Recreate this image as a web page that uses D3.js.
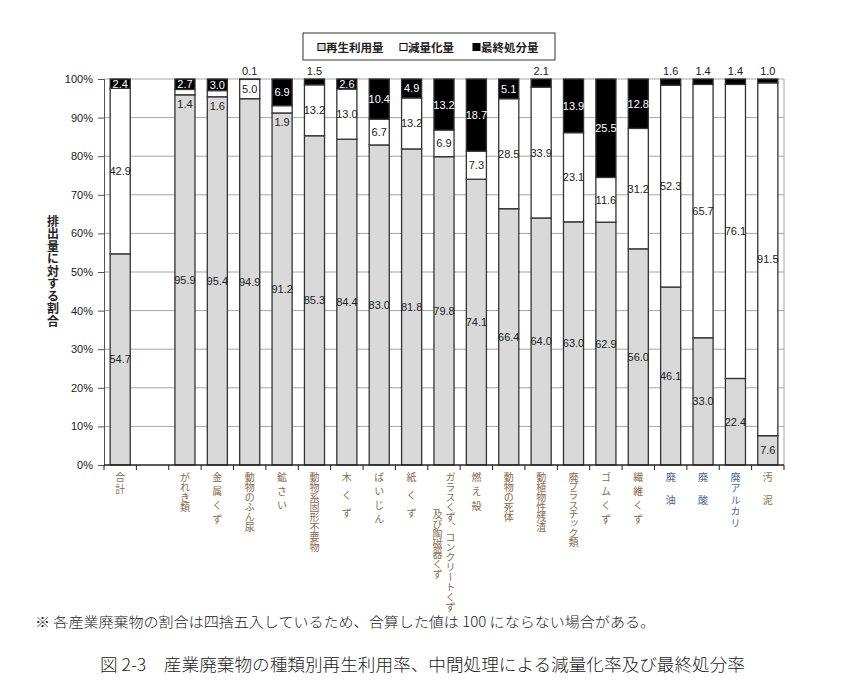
<!DOCTYPE html>
<html>
<head>
<meta charset="utf-8">
<script src="https://cdn.jsdelivr.net/npm/d3@7"></script>
<style>
body { margin: 0; background: #fff; }
text { font-family: "Liberation Sans", Arial, sans-serif; }
.jp { font-family: "Noto Sans CJK JP", sans-serif; }
</style>
</head>
<body>
<svg width="855" height="700"></svg>
<script>
// categories (blank slot after 合計), "\n" = second column of the label
var categories = ["合計", "", "がれき類", "金属くず", "動物のふん尿", "鉱さい", "動物系固形不要物",
  "木くず", "ばいじん", "紙くず", "ガラスくず、コンクリートくず\n及び陶磁器くず", "燃え殻",
  "動物の死体", "動植物性残渣", "廃プラスチック類", "ゴムくず", "繊維くず",
  "廃油", "廃酸", "廃アルカリ", "汚泥"];
var recycled = [54.7, null, 95.9, 95.4, 94.9, 91.2, 85.3, 84.4, 83.0, 81.8, 79.8, 74.1, 66.4, 64.0, 63.0, 62.9, 56.0, 46.1, 33.0, 22.4, 7.6];
var reduced  = [42.9, null, 1.4, 1.6, 5.0, 1.9, 13.2, 13.0, 6.7, 13.2, 6.9, 7.3, 28.5, 33.9, 23.1, 11.6, 31.2, 52.3, 65.7, 76.1, 91.5];
var landfill = [2.4, null, 2.7, 3.0, 0.1, 6.9, 1.5, 2.6, 10.4, 4.9, 13.2, 18.7, 5.1, 2.1, 13.9, 25.5, 12.8, 1.6, 1.4, 1.4, 1.0];
var seriesNames = ["再生利用量", "減量化量", "最終処分量"];
var yTicks = [0, 0.1, 0.2, 0.3, 0.4, 0.5, 0.6, 0.7, 0.8, 0.9, 1];
var yTitle = "排出量に対する割合";
var note = "※ 各産業廃棄物の割合は四捨五入しているため、合算した値は 100 にならない場合がある。";
var caption = "図 2-3　産業廃棄物の種類別再生利用率、中間処理による減量化率及び最終処分率";

// styles
var fills = ["#d9d9d9", "#ffffff", "#000000"];
var labelSpacing = [2, 0, 0, 4, 0, 4, 0, 8, 4, 8, 0, 4.5, 0, 0, -0.7, 4, 4, 13, 13, 1.5, 13];
var labelColors = categories.map(function(c, i){ return (i >= 17 && i <= 19) ? "#4a6290" : "#8a6a4a"; });

var plotL = 104, plotR = 784, plotT = 79, plotB = 465;
var svg = d3.select("svg");

var rows = categories.map(function(c, i){
  return {cat: c, i: i, r: recycled[i] || 0, d: reduced[i] || 0, l: landfill[i] || 0};
});
var keys = ["r", "d", "l"];
var stack = d3.stack().keys(keys).offset(d3.stackOffsetExpand);
var series = stack(rows);

var x = d3.scaleBand().domain(categories).range([plotL, plotR]).paddingInner(0.38).paddingOuter(0.19);
var y = d3.scaleLinear().domain([0, 1]).range([plotB, plotT]);

// gridlines
svg.append("g").selectAll("line").data(yTicks.slice(1)).enter().append("line")
  .attr("x1", plotL).attr("x2", plotR)
  .attr("y1", function(d){ return y(d); }).attr("y2", function(d){ return y(d); })
  .attr("stroke", "#a6a6a6").attr("stroke-width", 1);
svg.append("line").attr("x1", plotR).attr("x2", plotR).attr("y1", plotT).attr("y2", plotB)
  .attr("stroke", "#a6a6a6");

// bars
var layer = svg.append("g").selectAll("g").data(series).enter().append("g")
  .attr("fill", function(d, k){ return fills[k]; });
layer.selectAll("rect").data(function(d){ return d.filter(function(p){ return p[1] - p[0] > 0; }); })
  .enter().append("rect")
  .attr("x", function(p){ return x(p.data.cat); })
  .attr("width", x.bandwidth())
  .attr("y", function(p){ return y(p[1]); })
  .attr("height", function(p){ return y(p[0]) - y(p[1]); })
  .attr("stroke", "#333").attr("stroke-width", 1.3);

// y axis
var yAxis = svg.append("g").attr("transform", "translate(" + plotL + ",0)")
  .call(d3.axisLeft(y).tickValues(yTicks).tickFormat(d3.format(".0%")).tickSize(6).tickPadding(5));
yAxis.select(".domain").attr("stroke", "#555");
yAxis.selectAll(".tick line").attr("stroke", "#555");
yAxis.selectAll("text").attr("font-size", 11).attr("fill", "#222")
  .attr("font-family", "Liberation Sans, Arial, sans-serif");

// x axis line + ticks between slots
svg.append("line").attr("x1", plotL).attr("x2", plotR).attr("y1", plotB).attr("y2", plotB)
  .attr("stroke", "#222").attr("stroke-width", 1.3);
var bounds = d3.range(categories.length + 1).map(function(i){ return plotL + i * x.step(); });
svg.append("g").selectAll("line").data(bounds).enter().append("line")
  .attr("x1", function(d){ return d; }).attr("x2", function(d){ return d; })
  .attr("y1", plotB).attr("y2", plotB + 5).attr("stroke", "#222");

// value labels
var fmt = d3.format(".1f");
series.forEach(function(s, k){
  s.forEach(function(p){
    var v = [recycled, reduced, landfill][k][p.data.i];
    if (v == null) return;
    var cx = x(p.data.cat) + x.bandwidth() / 2;
    var cy = y((p[0] + p[1]) / 2), col = k == 2 ? "#fff" : "#222";
    if (k == 1 && v < 2) { cy = y(p[0]) + 9; }
    if (k == 2 && v < 2.2) { cy = y(p[1]) - 8; col = "#222"; }
    svg.append("text").attr("x", cx).attr("y", cy)
      .attr("text-anchor", "middle").attr("dominant-baseline", "central")
      .attr("font-size", 11).attr("fill", col).text(fmt(v));
  });
});

// category labels, vertical
categories.forEach(function(c, i){
  if (!c) return;
  var cols = c.split("\n");
  var cx = x(c) + x.bandwidth() / 2;
  cols.forEach(function(t, j){
    var off = cols.length > 1 ? (j == 0 ? 6.5 : -6.5) : 0;
    svg.append("text").attr("class", "jp")
      .attr("x", cx + off).attr("y", 472 + j * 37)
      .style("writing-mode", "vertical-rl")
      .style("letter-spacing", labelSpacing[i] + "px")
      .attr("font-size", 10).attr("fill", labelColors[i]).text(t);
  });
});

// y title
svg.append("text").attr("class", "jp").attr("x", 53).attr("y", 215)
  .style("writing-mode", "vertical-rl").style("letter-spacing", "0.5px")
  .attr("font-size", 12).attr("font-weight", "bold").attr("fill", "#222").text(yTitle);

// legend
svg.append("rect").attr("x", 303).attr("y", 33).attr("width", 252).attr("height", 27)
  .attr("fill", "#fff").attr("stroke", "#333");
var legendX = [318, 400, 473];
var lg = svg.append("g").selectAll("g").data(seriesNames).enter().append("g")
  .attr("transform", function(d, k){ return "translate(" + legendX[k] + ",47)"; });
lg.append("rect").attr("x", 0).attr("y", -3.5).attr("width", 7).attr("height", 7)
  .attr("fill", function(d, k){ return fills[k]; }).attr("stroke", "#000");
lg.append("text").attr("class", "jp").attr("x", 8).attr("dominant-baseline", "central")
  .attr("font-size", 11.5).attr("font-weight", "bold").attr("fill", "#222")
  .text(function(d){ return d; });

// note and caption
svg.append("text").attr("class", "jp").attr("x", 35).attr("y", 627)
  .attr("font-size", 14).attr("font-weight", 300).attr("fill", "#222")
  .attr("textLength", 620).attr("lengthAdjust", "spacingAndGlyphs").text(note);
svg.append("text").attr("class", "jp").attr("x", 100).attr("y", 671)
  .attr("font-size", 17).attr("font-weight", 300).attr("fill", "#222")
  .attr("textLength", 645).attr("lengthAdjust", "spacingAndGlyphs").text(caption);
</script>
</body>
</html>
